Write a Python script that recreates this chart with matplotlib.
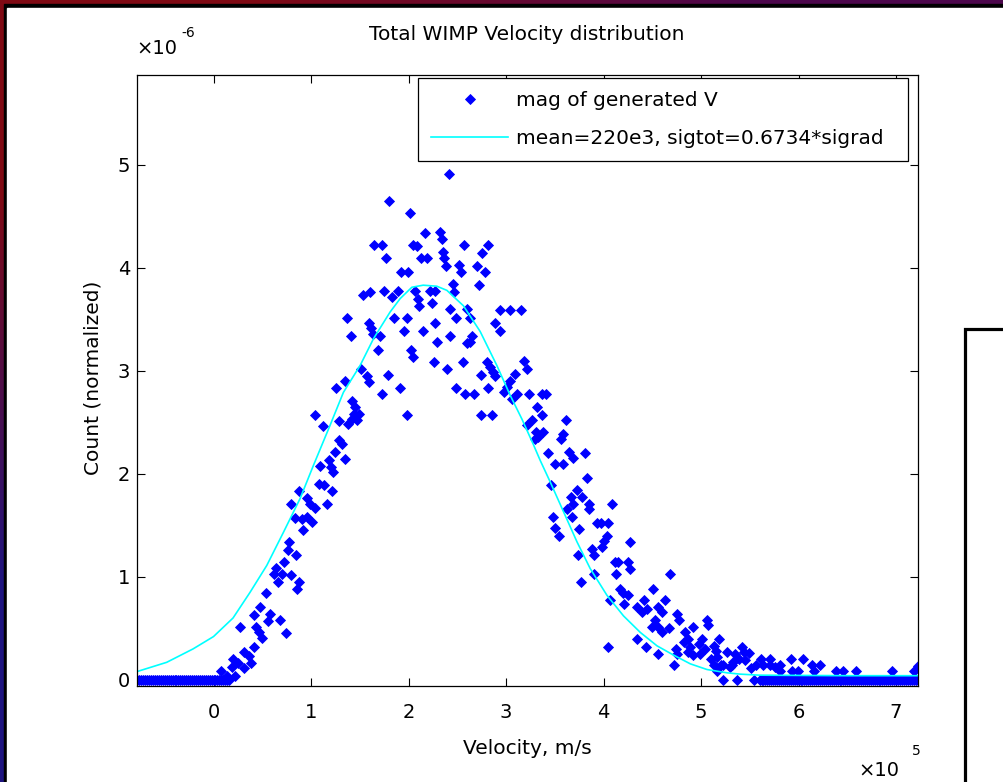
import numpy as np
import matplotlib.pyplot as plt
from matplotlib.patches import Rectangle

plt.rcParams['font.family'] = ['DejaVu Sans']

# histogram of |V|: velocity in units of 1e5 m/s, normalized count in units of 1e-6
vel = [1.12, 1.29, 1.38, 1.47, 1.29, 1.32, 1.25, 1.35, 1.18, 1.09, 1.20, 1.23, 1.08, 1.13, 1.21,
       0.88, 0.79, 0.96, 0.99, 1.04, 1.16, 0.84, 0.91, 0.96, 1.01, 0.92, 0.77, 0.76, 0.85, 0.72,
       0.64, 0.62, 0.70, 0.79, 0.66, 0.88, 0.86, 0.54, 0.48, 0.58, 0.41, 0.68, 0.56, 0.27, 0.44,
       0.47, 0.74, 0.50, 0.41, 0.31, 0.36, 0.20, 0.25, 0.38, 0.19, 0.31, 0.08, 0.14, 0.22,
       2.42, 1.80, 2.01, 2.17, 2.32, 2.34, 1.65, 1.73, 2.05, 2.09, 2.57, 2.82, 2.75, 1.77, 2.13,
       2.19, 2.35, 2.36, 2.38, 2.52, 2.54, 2.70, 2.78, 1.92, 1.99, 2.46, 2.47, 2.72, 1.53, 1.60,
       1.75, 1.83, 1.89, 2.07, 2.10, 2.11, 2.22, 2.27, 2.24, 1.37, 1.85, 1.98, 2.43, 2.49, 2.60,
       2.63, 1.59, 1.62, 1.64, 2.27, 1.41, 1.71, 1.95, 2.15, 2.43, 2.29, 2.65, 2.63, 2.60, 2.89,
       1.69, 2.03, 2.05, 2.26, 2.39, 2.56, 2.80, 2.84, 2.87, 2.89, 2.74, 1.51, 1.57, 1.59, 1.79,
       1.35, 1.26, 1.91, 2.49, 2.58, 2.67, 2.82, 1.73, 1.42, 1.45, 1.44, 1.49, 1.42, 1.04, 1.98,
       2.74, 2.86,
       2.94, 3.04, 3.15, 2.94, 3.18, 3.21, 3.09, 3.04, 3.01, 2.98, 3.06, 3.11, 3.24, 3.37, 3.41,
       3.32, 3.37, 3.27, 3.21, 3.61, 3.31, 3.33, 3.38, 3.30, 3.58, 3.56,
       3.43, 3.65, 3.69, 3.81, 3.50, 3.58, 3.83, 3.46, 3.73, 3.67, 3.78, 3.69, 3.85, 4.09, 3.62,
       3.68, 3.85, 3.48, 3.93, 3.97, 4.05, 3.50, 3.54, 3.75, 4.04, 4.00, 3.98, 4.27, 3.88, 3.90,
       3.74, 4.12, 4.15, 4.25, 4.27, 4.13, 3.90, 4.68, 3.77, 4.17, 4.20, 4.25, 4.51, 4.07, 4.21,
       4.34, 4.41, 4.45, 4.39, 4.56, 4.63, 4.60, 4.53, 4.50, 4.56, 4.60, 4.75, 4.77, 4.67, 5.06,
       5.07, 4.92, 4.84, 4.87, 4.82, 5.01, 4.98, 5.04, 5.18, 5.13, 4.34, 4.44, 4.05, 4.56, 4.74,
       4.75, 4.87, 4.92, 4.99, 4.72, 5.10, 5.16, 5.27, 5.35, 5.13, 5.23, 5.32,
       5.15, 4.89, 5.42, 5.44, 5.49, 5.39, 5.33, 5.20, 5.16, 5.30, 5.45, 5.61, 5.71, 5.71, 5.56,
       5.51, 5.92, 6.05, 5.64, 5.76, 5.81, 5.81, 6.14, 6.22, 6.16, 5.93, 5.99, 6.38, 6.46, 6.59,
       6.96, 7.18, 7.22]
cnt = [2.46, 2.51, 2.48, 2.52, 2.33, 2.29, 2.21, 2.14, 2.13, 2.08, 2.07, 2.02, 1.90, 1.89, 1.83,
       1.83, 1.71, 1.76, 1.71, 1.67, 1.71, 1.57, 1.56, 1.58, 1.53, 1.45, 1.34, 1.26, 1.21, 1.14,
       1.09, 1.03, 1.03, 1.02, 0.95, 0.95, 0.88, 0.84, 0.71, 0.64, 0.63, 0.58, 0.57, 0.51, 0.51,
       0.46, 0.45, 0.41, 0.32, 0.27, 0.23, 0.20, 0.16, 0.16, 0.12, 0.11, 0.09, 0.04, 0.04,
       4.91, 4.65, 4.53, 4.34, 4.35, 4.28, 4.22, 4.22, 4.22, 4.21, 4.22, 4.22, 4.14, 4.09, 4.09,
       4.09, 4.15, 4.09, 4.02, 4.03, 3.96, 4.02, 3.96, 3.96, 3.96, 3.84, 3.76, 3.83, 3.73, 3.76,
       3.77, 3.72, 3.77, 3.77, 3.70, 3.63, 3.77, 3.77, 3.66, 3.51, 3.51, 3.51, 3.60, 3.51, 3.60,
       3.51, 3.46, 3.41, 3.36, 3.46, 3.34, 3.34, 3.39, 3.39, 3.34, 3.28, 3.34, 3.28, 3.27, 3.46,
       3.20, 3.20, 3.13, 3.08, 3.02, 3.08, 3.08, 3.04, 2.99, 2.95, 2.96, 3.02, 2.95, 2.89, 2.96,
       2.90, 2.83, 2.83, 2.83, 2.77, 2.77, 2.83, 2.77, 2.71, 2.65, 2.58, 2.58, 2.53, 2.57, 2.57,
       2.57, 2.57,
       3.59, 3.59, 3.59, 3.39, 3.09, 3.02, 2.97, 2.90, 2.84, 2.79, 2.73, 2.77, 2.77, 2.77, 2.77,
       2.65, 2.57, 2.52, 2.47, 2.52, 2.41, 2.36, 2.41, 2.34, 2.39, 2.34,
       2.20, 2.21, 2.15, 2.20, 2.09, 2.09, 1.96, 1.89, 1.84, 1.77, 1.77, 1.71, 1.71, 1.71, 1.66,
       1.58, 1.66, 1.58, 1.52, 1.52, 1.52, 1.47, 1.40, 1.46, 1.40, 1.35, 1.29, 1.34, 1.27, 1.21,
       1.21, 1.14, 1.14, 1.14, 1.08, 1.03, 1.03, 1.03, 0.95, 0.88, 0.84, 0.82, 0.88, 0.77, 0.74,
       0.71, 0.77, 0.69, 0.66, 0.71, 0.77, 0.66, 0.58, 0.51, 0.51, 0.46, 0.64, 0.58, 0.50, 0.58,
       0.53, 0.51, 0.46, 0.40, 0.37, 0.40, 0.35, 0.30, 0.40, 0.33, 0.40, 0.32, 0.32, 0.25, 0.30,
       0.25, 0.27, 0.24, 0.25, 0.14, 0.20, 0.22, 0.27, 0.25, 0.14, 0.14, 0.14,
       0.28, 0.32, 0.32, 0.27, 0.26, 0.20, 0.17, 0.14, 0.09, 0.12, 0.19, 0.20, 0.20, 0.14, 0.14,
       0.11, 0.20, 0.20, 0.14, 0.12, 0.14, 0.09, 0.14, 0.14, 0.09, 0.09, 0.09, 0.09, 0.09, 0.09,
       0.09, 0.09, 0.13]

# empty bins (count 0)
zero_vel = [-0.785, -0.76, -0.74, -0.72, -0.70, -0.68, -0.66, -0.64, -0.62, -0.60, -0.58, -0.56,
            -0.54, -0.52, -0.50, -0.48, -0.46, -0.44, -0.42, -0.40, -0.38, -0.36, -0.34, -0.32,
            -0.30, -0.28, -0.26, -0.24, -0.22, -0.20, -0.18, -0.16, -0.14, -0.12, -0.10, -0.08,
            -0.06, -0.04, -0.02, 0.00, 0.02, 0.04, 0.06, 0.08, 0.10, 0.12, 0.14, 0.16,
            5.22, 5.37, 5.54, 5.60, 5.62, 5.64, 5.66, 5.68, 5.70, 5.72, 5.74, 5.76, 5.78, 5.80,
            5.82, 5.84, 5.86, 5.88, 5.90, 5.92, 5.94, 5.96, 5.98, 6.00, 6.02, 6.04, 6.06, 6.08,
            6.10, 6.12, 6.14, 6.16, 6.18, 6.20, 6.22, 6.24, 6.26, 6.28, 6.30, 6.32, 6.34, 6.36,
            6.38, 6.40, 6.42, 6.44, 6.46, 6.48, 6.50, 6.52, 6.54, 6.56, 6.58, 6.60, 6.62, 6.64,
            6.66, 6.68, 6.70, 6.72, 6.74, 6.76, 6.78, 6.80, 6.82, 6.84, 6.86, 6.88, 6.90, 6.92,
            6.94, 6.96, 6.98, 7.00, 7.02, 7.04, 7.06, 7.08, 7.10, 7.12, 7.14, 7.16, 7.18, 7.20,
            7.225]

# model curve
fit_v = [-0.785, -0.48, -0.21, 0.0, 0.20, 0.375, 0.546, 0.716, 0.888, 1.024, 1.195, 1.332, 1.503,
         1.640, 1.811, 1.914, 2.034, 2.15, 2.29, 2.393, 2.563, 2.735, 2.906, 3.043, 3.163, 3.282,
         3.350, 3.453, 3.590, 3.727, 3.863, 4.035, 4.205, 4.377, 4.548, 4.718, 4.890, 5.061, 5.266,
         5.403, 5.6, 6.5, 7.225]
fit_c = [0.08, 0.17, 0.30, 0.42, 0.60, 0.85, 1.11, 1.43, 1.76, 2.08, 2.47, 2.79, 3.05,
         3.31, 3.57, 3.70, 3.81, 3.83, 3.82, 3.78, 3.63, 3.38, 3.05, 2.76, 2.53, 2.28,
         2.13, 1.92, 1.63, 1.34, 1.08, 0.82, 0.62, 0.46, 0.33, 0.24, 0.155, 0.10, 0.068,
         0.055, 0.045, 0.04, 0.04]

W, H = 1004, 782
fig = plt.figure(figsize=(W / 100, H / 100), dpi=100, facecolor='black')

# window frame behind the figure
bg = fig.add_axes([0, 0, 1, 1], zorder=-10)
bg.axis('off')
grad = np.array([[[0.50, 0.04, 0.08], [0.30, 0.03, 0.30]],
                 [[0.12, 0.08, 0.50], [0.20, 0.05, 0.40]]])
bg.imshow(grad, extent=[0, 1, 0, 1], aspect='auto', interpolation='bilinear')
bg.add_patch(Rectangle((4 / W, 0), 1, 1 - 4 / H, color='black'))
bg.add_patch(Rectangle((7 / W, 0), 1, 1 - 8 / H, color='white'))
bg.add_patch(Rectangle((965 / W, -0.1), 0.2, 0.1 + 1 - 329 / H, facecolor='white',
                       edgecolor='black', lw=2.3))
bg.set_xlim(0, 1)
bg.set_ylim(0, 1)

ax = fig.add_axes([137 / W, 1 - 686 / H, (918 - 137) / W, (686 - 75) / H])
ax.plot(vel + zero_vel, cnt + [0] * len(zero_vel), linestyle='none', marker='D', ms=5.3,
        color='#0000ff', mec='#0000ff', mew=0.6, label='mag of generated V')
ax.plot(fit_v, fit_c, color='#00ffff', lw=1.2, label='mean=220e3, sigtot=0.6734*sigrad')

ax.set_xlim(-0.785, 7.225)
ax.set_ylim(-0.06, 5.87)
ax.set_xticks(range(0, 8))
ax.set_yticks(range(0, 6))
ax.tick_params(direction='in', length=6, width=0.8, top=True, right=True, labelsize=14)
ax.tick_params(axis='x', pad=12)
ax.tick_params(axis='y', pad=5)
for s in ax.spines.values():
    s.set_linewidth(0.9)

leg = ax.legend(loc='upper left', bbox_to_anchor=(0.36, 0.841, 0.627, 0.154), mode='expand',
                borderaxespad=0, fontsize=14.5, numpoints=1, handlelength=3.8,
                handletextpad=0.4, borderpad=0.65, labelspacing=0.95, fancybox=False,
                framealpha=1, edgecolor='black')
leg.get_frame().set_linewidth(0.9)

fig.text(527 / W, 1 - 35 / H, 'Total WIMP Velocity distribution', ha='center', va='center',
         fontsize=14.5)
fig.text(527 / W, 1 - 749 / H, 'Velocity, m/s', ha='center', va='center', fontsize=14.5)
fig.text(93 / W, 1 - 378 / H, 'Count (normalized)', ha='center', va='center', rotation=90,
         fontsize=14.5)
fig.text(136 / W, 1 - 48 / H, '×10', ha='left', va='center', fontsize=14)
fig.text(181 / W, 1 - 33 / H, '-6', ha='left', va='center', fontsize=10)
fig.text(858 / W, 1 - 771 / H, '×10', ha='left', va='center', fontsize=14)
fig.text(912 / W, 1 - 751 / H, '5', ha='left', va='center', fontsize=10)

fig.savefig('out.png', dpi=100, facecolor=fig.get_facecolor())
